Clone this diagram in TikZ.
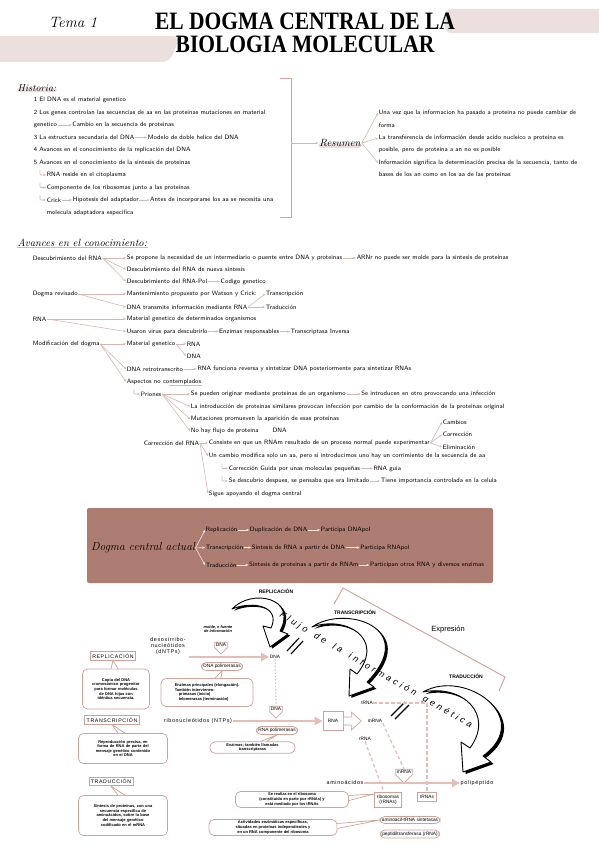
\documentclass[tikz,border=0pt]{standalone}
\usepackage{fontspec}
\usepackage{graphicx}
\usetikzlibrary{arrows.meta, positioning, backgrounds, decorations.text, shapes.symbols}
\newfontfamily\fig{Liberation Sans}
\newfontfamily\figsp{Liberation Sans}[LetterSpace=12]
\newfontfamily\titlef{Liberation Serif}
\definecolor{rosa}{RGB}{236,224,222}
\definecolor{rosaline}{RGB}{216,182,175}
\definecolor{marron}{RGB}{174,125,114}
\definecolor{claro}{RGB}{244,226,222}
\definecolor{bubc}{RGB}{208,162,152}
\definecolor{pkarr}{RGB}{228,190,182}
\newcommand{\hw}{\sffamily\fontsize{6.3}{7}\selectfont}
\newcommand{\cur}{\rmfamily\itshape}
\newcommand{\ftxt}{\fig\bfseries\fontsize{4}{4.6}\selectfont}
% flechas gruesas del esquema
\newcommand{\flechaRep}{(232,609) .. controls (252,588) and (298,598) .. (280,631) -- (288,634) -- (270,647) -- (263,626) -- (271,628) .. controls (281,607) and (254,600) .. (232,609) -- cycle}
\newcommand{\flechaTra}{(312,627) .. controls (345,604) and (420,628) .. (367,682) -- (374,687) -- (349,696) -- (350,669) -- (357,674) .. controls (386,638) and (345,615) .. (312,627) -- cycle}
\newcommand{\flechaTrd}{(423,692) .. controls (465,668) and (535,718) .. (483,756) -- (491,762) -- (463,772) -- (461,742) -- (470,748) .. controls (495,714) and (462,684) .. (423,692) -- cycle}

\begin{document}
\begin{tikzpicture}[x=1pt, y=-1pt,
    txt/.style={anchor=west, inner sep=0.6pt, font=\hw},
    arr/.style={-{Stealth[length=2.8pt,width=2.4pt]}, rosaline, line width=0.6pt},
    warr/.style={-{Stealth[length=2.8pt,width=2.4pt]}, claro, line width=0.6pt},
    hook/.style={arr, rounded corners=0.8pt},
    lbl/.style={draw=bubc, line width=0.7pt, inner sep=2pt, font=\figsp\fontsize{5.2}{6}\selectfont},
    bub/.style={draw=bubc, fill=white, line width=0.7pt, rounded corners=5pt, align=center, inner sep=1.5pt, font=\ftxt},
    pill/.style={draw=bubc, line width=0.7pt, rounded corners=4.5pt, inner sep=1.8pt, font=\fig\fontsize{4.8}{5}\selectfont},
    sig/.style={draw=bubc, line width=0.7pt, signal, signal to=south, inner sep=1.2pt, font=\fig\fontsize{4.8}{5}\selectfont},
    lab/.style={font=\fig\fontsize{4.8}{5.4}\selectfont, inner sep=0.5pt, align=center},
    slab/.style={font=\figsp\fontsize{5.4}{6}\selectfont, inner sep=0.5pt, align=center},
    parr/.style={-{Triangle[length=8pt,width=8pt]}, pkarr, line width=1.4pt},
    dsh/.style={pkarr, line width=1.3pt, dash pattern=on 3.5pt off 2.5pt},
    tl/.style={fill=white, draw=bubc, line width=0.7pt, line join=round},
    fat/.style={fill=white, draw=black, line width=0.9pt, line join=round},
    brk/.style={bubc, line width=0.9pt}
  ]
  \useasboundingbox (0,0) rectangle (599,848);

  % titulo
  \node (tema) at (73,22) {\cur\fontsize{15}{15}\selectfont Tema 1};
  \node (tit1) at (305,21) {\titlef\bfseries\fontsize{25}{25}\selectfont\scalebox{0.86}[1]{EL DOGMA CENTRAL DE LA}};
  \node (tit2) at (305,44) {\titlef\bfseries\fontsize{25}{25}\selectfont\scalebox{0.86}[1]{BIOLOGIA MOLECULAR}};

  % historia
  \node[anchor=west, inner sep=0.5pt] (hist) at (17,88) {\cur\fontsize{10}{10}\selectfont Historia:};
  \node[txt] (h1) at (33,100) {1 El DNA es el material genetico};
  \node[txt] (h2) at (33,112.5) {2 Los genes controlan las secuencias de aa en las proteinas mutaciones en material};
  \node[txt] (h3) at (33,125) {genetico};
  \node[txt, right=14pt of h3] (h3b) {Cambio en la secuencia de proteinas};
  \node[txt] (h4) at (33,137.5) {3 La estructura secundaria del DNA};
  \node[txt, right=12pt of h4] (h4b) {Modelo de doble helice del DNA};
  \node[txt] (h5) at (33,150) {4 Avances en el conocimiento de la replicación del DNA};
  \node[txt] (h6) at (33,162.5) {5 Avances en el conocimiento de la sintesis de proteinas};
  \node[txt] (h7) at (46,175) {RNA reside en el citoplasma};
  \node[txt] (h8) at (46,187.5) {Componente de los ribosomas junto a las proteinas};
  \node[txt] (h9) at (46,200) {Crick};
  \node[txt, right=10pt of h9] (h9b) {Hipotesis del adaptador};
  \node[txt, right=10pt of h9b] (h9c) {Antes de incorporarse los aa se necesita una};
  \node[txt] (h10) at (46,212.5) {molecula adaptadora especifica};
  \draw[arr] (h3) -- (h3b);
  \draw[arr] (h4) -- (h4b);
  \draw[arr] (h9) -- (h9b);
  \draw[arr] (h9b) -- (h9c);
  \foreach \n in {h7,h8,h9}
    \draw[hook] ([xshift=-6pt,yshift=5pt]\n.west) |- (\n.west);

  % resumen
  \draw[brk] (280,78) -- (291,78) -- (291,217) -- (280,217);
  \coordinate (brkm) at (291,143);
  \node[inner sep=1pt] (res) at (340,143) {\cur\fontsize{10.5}{10.5}\selectfont Resumen};
  \draw[arr, line width=0.9pt] (brkm) -- (res.west);
  \node[txt] (r1) at (378,113) {Una vez que la informacion ha pasado a proteina no puede cambiar de};
  \node[txt] (r1b) at (378,125) {forma};
  \node[txt] (r2) at (378,138) {La transferencia de información desde acido nucleico a proteina es};
  \node[txt] (r2b) at (378,150) {posible, pero de proteina a an no es posible};
  \node[txt] (r3) at (378,163) {Información significa la determinación precisa de la secuencia, tanto de};
  \node[txt] (r3b) at (378,175) {bases de los an como en los aa de las proteinas};
  \foreach \n in {r1,r2,r3}
    \draw[arr] (res.east) -- (\n.west);

  % avances
  \node[anchor=west, inner sep=0.5pt] (av) at (17,243) {\cur\fontsize{10.5}{10.5}\selectfont Avances en el conocimiento:};
  \node[txt] (d1) at (32,258) {Descubrimiento del RNA};
  \node[txt] (d1a) at (126,258) {Se propone la necesidad de un intermediario o puente entre DNA y proteinas};
  \node[txt, right=13pt of d1a] (d1a2) {ARNr no puede ser molde para la sintesis de proteinas};
  \node[txt] (d1b) at (126,269.5) {Descubrimiento del RNA de nueva sintesis};
  \node[txt] (d1c) at (126,281.5) {Descubrimiento del RNA-Pol};
  \node[txt, right=12pt of d1c] (d1c2) {Codigo genetico};
  \foreach \n in {d1a,d1b,d1c}
    \draw[arr] (d1.east) -- (\n.west);
  \draw[arr] (d1a) -- (d1a2);
  \draw[arr] (d1c) -- (d1c2);

  \node[txt] (d2) at (32,294) {Dogma revisado};
  \node[txt] (d2a) at (126,294) {Mantenimiento propuesto por Watson y Crick:};
  \node[txt] (d2b) at (126,307) {DNA transmite información mediante RNA};
  \node[txt] (tc) at (265,294) {Transcripción};
  \node[txt] (td) at (265,307) {Traducción};
  \draw[arr] (d2.east) -- (d2a.west);
  \draw[arr] (d2.east) -- (d2b.west);
  \draw[arr] (d2b.east) -- (tc.west);
  \draw[arr] (d2b.east) -- (td.west);

  \node[txt] (d3) at (32,319) {RNA};
  \node[txt] (d3a) at (126,319) {Material genetico de determinados organismos};
  \node[txt] (d3b) at (126,331.5) {Usaron virus para descubrirlo};
  \node[txt, right=10pt of d3b] (d3c) {Enzimas responsables};
  \node[txt, right=10pt of d3c] (d3d) {Transcriptasa Inversa};
  \draw[arr] (d3.east) -- (d3a.west);
  \draw[arr] (d3.east) -- (d3b.west);
  \draw[arr] (d3b) -- (d3c);
  \draw[arr] (d3c) -- (d3d);

  \node[txt] (d4) at (32,344) {Modificación del dogma};
  \node[txt] (d4a) at (126,344) {Material genetico};
  \node[txt] (rnaA) at (186,344) {RNA};
  \node[txt] (dnaA) at (186,356) {DNA};
  \node[txt] (d4b) at (126,369) {DNA retrotranscrito};
  \node[txt, right=13pt of d4b] (d4c) {RNA funciona reversa y sintetizar DNA posteriormente para sintetizar RNAs};
  \node[txt] (d4d) at (126,381.5) {Aspectos no contemplados};
  \foreach \n in {d4a,d4b,d4d}
    \draw[arr] (d4.east) -- (\n.west);
  \draw[arr] (d4a.east) -- (rnaA.west);
  \draw[arr] (d4a.east) -- (dnaA.west);
  \draw[arr] (d4b) -- (d4c);
  \draw[rosaline, line width=0.6pt] ([xshift=-33pt]d4d.south east) -- (d4d.south east);

  \node[txt] (pr) at (140,394) {Priones};
  \node[txt] (pr1) at (190,394) {Se pueden originar mediante proteinas de un organismo};
  \node[txt, right=14pt of pr1] (pr1b) {Se introducen en otro provocando una infección};
  \node[txt] (pr2) at (190,406.5) {La introducción de proteinas similares provocan infección por cambio de la conformación de la proteinas original};
  \node[txt] (pr3) at (190,419) {Mutaciones promueven la aparición de esas proteinas};
  \node[txt] (pr4) at (190,431) {No hay flujo de proteina\hspace{14pt}DNA};
  \draw[hook] ([xshift=-6pt,yshift=5pt]pr.west) |- (pr.west);
  \foreach \n in {pr1,pr2,pr3,pr4}
    \draw[arr] (pr.east) -- (\n.west);
  \draw[arr] (pr1) -- (pr1b);

  \node[txt] (cr) at (143,443) {Corrección del RNA};
  \node[txt] (cr1) at (208,443) {Consiste en que un RNAm resultado de un proceso normal puede experimentar};
  \node[txt] (cb1) at (442,422) {Cambios};
  \node[txt] (cb2) at (442,434.5) {Corrección};
  \node[txt] (cb3) at (442,447) {Eliminación};
  \node[txt] (cr2) at (208,456) {Un cambio modifica solo un aa, pero si introducimos uno hay un corrimiento de la secuencia de aa};
  \node[txt] (cr3) at (228,468.5) {Corrección Guida por unas moleculas pequeñas};
  \node[txt, right=12pt of cr3] (cr3b) {RNA guia};
  \node[txt] (cr4) at (228,481) {Se descubrio despues, se pensaba que era limitado};
  \node[txt, right=10pt of cr4] (cr4b) {Tiene importancia controlada en la celula};
  \node[txt] (cr5) at (208,493.5) {Sigue apoyando el dogma central};
  \foreach \n in {cr1,cr2,cr5}
    \draw[arr] (cr.east) -- (\n.west);
  \foreach \n in {cb1,cb2,cb3}
    \draw[arr] (cr1.east) -- (\n.west);
  \foreach \n in {cr3,cr4}
    \draw[hook] ([xshift=-6pt,yshift=5pt]\n.west) |- (\n.west);
  \draw[arr] (cr3) -- (cr3b);
  \draw[arr] (cr4) -- (cr4b);

  % dogma central actual
  \node[fill=marron, minimum width=406pt, minimum height=75pt, inner sep=0pt, rounded corners=2pt] (dbox) at (290,545.5) {};
  \node[inner sep=0.5pt] (dca) at (143,548) {\cur\fontsize{11.5}{12}\selectfont Dogma central actual};
  \node[txt] (rp1) at (205,530) {Replicación};
  \node[txt, right=11pt of rp1] (rp2) {Duplicación de DNA};
  \node[txt, right=12pt of rp2] (rp3) {Participa DNApol};
  \node[txt] (ts1) at (205,547.5) {Transcripción};
  \node[txt, right=7pt of ts1] (ts2) {Sintesis de RNA a partir de DNA};
  \node[txt, right=14pt of ts2] (ts3) {Participa RNApol};
  \node[txt] (tr1) at (205,565) {Traducción};
  \node[txt, right=11pt of tr1] (tr2) {Sintesis de proteinas a partir de RNAm};
  \node[txt, right=10pt of tr2] (tr3) {Participan otros RNA y diversos enzimas};
  \foreach \n in {rp1,ts1,tr1}
    \draw[warr] (dca.east) -- (\n.west);
  \draw[warr] (rp1) -- (rp2);
  \draw[warr] (rp2) -- (rp3);
  \draw[warr] (ts1) -- (ts2);
  \draw[warr] (ts2) -- (ts3);
  \draw[warr] (tr1) -- (tr2);
  \draw[warr] (tr2) -- (tr3);

  % esquema: flujo de la informacion
  \fill[black, shift={(2.2,1.6)}] \flechaRep;
  \path[fat] \flechaRep;
  \fill[black, shift={(2.4,1.8)}] \flechaTra;
  \path[fat] \flechaTra;
  \fill[black, shift={(2.6,2)}] \flechaTrd;
  \path[fat] \flechaTrd;
  \path[decorate, decoration={text along path, text align=fit to path,
      text={|\fig\itshape\fontsize{9}{9}\selectfont|Flujo de la información genética}}]
    (279,616) .. controls (330,648) and (400,688) .. (470,728);
  \node[font=\fig\bfseries\fontsize{5}{5}\selectfont, inner sep=0.5pt] (repl) at (276,591) {REPLICACIÓN};
  \node[font=\fig\bfseries\fontsize{5}{5}\selectfont, inner sep=0.5pt] (trans) at (355,612) {TRANSCRIPCIÓN};
  \node[font=\fig\bfseries\fontsize{5}{5}\selectfont, inner sep=0.5pt] (trad) at (466,676) {TRADUCCIÓN};
  \node[font=\fig\fontsize{7.5}{7.5}\selectfont, inner sep=0.5pt] (expr) at (448,630) {Expresión};
  \draw[brk] (334,604) -- (343,588) -- (505,677) -- (499,691);
  \draw[line width=1.1pt] (287,651) -- (299,638) (291,654) -- (303,641);
  \draw[line width=1.1pt] (391,716) -- (405,702) (395,719) -- (409,705);

  % replicacion
  \node[lbl] (lblR) at (113,656) {REPLICACIÓN};
  \node[bub, text width=64pt, minimum height=40pt] (bubR) at (116,689) {Copia del DNA\\cromosómico progenitor\\para formar moléculas\\de DNA hijas con\\idéntica secuencia.};
  \filldraw[tl] ([xshift=-5pt]bubR.north) -- (lblR.south) -- ([xshift=2pt]bubR.north);
  \node[slab] (dntp) at (168,646) {desoxirribo-\\nucleótidos\\(dNTPs)};
  \node[lab, font=\fig\bfseries\itshape\fontsize{3.9}{4.5}\selectfont] (molde) at (218,629) {molde, o fuente\\de información};
  \node[sig] (dnam) at (221,645) {DNA};
  \node[lab] (dnap) at (275,657) {DNA};
  \coordinate (dntpout) at (189,657);
  \draw[parr] (dntpout) -- (dnap.west);
  \node[pill] (dnapol) at (222,666.5) {DNA polimerasas};
  \node[bub, align=left, minimum width=92pt, minimum height=28pt] (bubDP) at (207,692.5) {Enzimas principales (elongación).\\También intervienen:\\\quad primasas (inicio)\\\quad telomerasas (terminación)};
  \filldraw[tl] ([xshift=8pt]bubDP.north) -- (dnapol.south) -- ([xshift=14pt]bubDP.north);
  \node[sig] (dnab) at (276,709) {DNA};
  \draw[pkarr, line width=1.3pt, dotted] (dnap.south) -- (dnab.north);

  % transcripcion
  \node[lbl] (lblT) at (112,720) {TRANSCRIPCIÓN};
  \node[bub, text width=86pt, minimum height=30pt] (bubT) at (123,748.5) {Reproducción precisa, en\\forma de RNA de parte del\\mensaje genético contenido\\en el DNA};
  \filldraw[tl] ([xshift=-5pt]bubT.north) -- (lblT.south) -- ([xshift=2pt]bubT.north);
  \node[slab] (ntp) at (198,721) {ribonucleótidos (NTPs)};
  \node[draw=bubc, line width=0.7pt, minimum width=20pt, minimum height=19pt, inner sep=0pt, font=\fig\fontsize{4.8}{5}\selectfont] (rnab) at (333,721) {RNA};
  \draw[parr] (ntp.east) -- (rnab.west);
  \filldraw[tl] ([yshift=4pt]rnab.east) -- ++(8,0) -- ++(0,-5) -- ++(10,9) -- ++(-10,9) -- ++(0,-5) -- ++(-8,0) -- cycle;
  \node[pill] (rnapol) at (277,730.5) {RNA polimerasas};
  \node[bub, minimum width=85pt] (bubRP) at (252.5,747.5) {Enzimas; también llamadas\\transcriptasas};
  \filldraw[tl] ([xshift=8pt]bubRP.north) -- (rnapol.south) -- ([xshift=14pt]bubRP.north);
  \node[lab] (trna) at (367,703) {tRNA};
  \node[lab] (mrna) at (375,721) {mRNA};
  \node[lab] (rrna) at (365,739) {rRNA};

  % traduccion
  \node[lbl] (lblTr) at (111,781.5) {TRADUCCIÓN};
  \node[bub, text width=86pt, minimum height=40pt] (bubTr) at (123,815.5) {Síntesis de proteínas, con una\\secuencia específica de\\aminoácidos, sobre la base\\del mensaje genético\\codificado en el mRNA};
  \filldraw[tl] ([xshift=-5pt]bubTr.north) -- (lblTr.south) -- ([xshift=2pt]bubTr.north);
  \node[sig] (mrnab) at (404,772) {mRNA};
  \node[slab] (amin) at (345,783) {aminoácidos};
  \node[slab] (poli) at (477,783) {polipéptido};
  \draw[parr] (amin.east) -- (poli.west);
  \node[lab, draw=bubc, line width=0.7pt, inner sep=2.5pt] (ribo) at (388,800) {ribosomas\\(rRNAs)};
  \node[lab, draw=bubc, line width=0.7pt, inner sep=2.5pt] (trnas) at (427,797) {tRNAs};
  \node[pill] (amsint) at (410,820) {aminoacil-tRNA sintetasas};
  \node[pill] (pept) at (410,834) {peptidiltransferasa (rRNA)};
  \node[bub, minimum width=113pt] (bubRib) at (292,799.5) {Se realiza en el ribosoma\\(constituido en parte por rRNAs) y\\está mediado por los tRNAs};
  \filldraw[tl] ([yshift=4pt]bubRib.east) -- ([yshift=6pt]ribo.west) -- ([yshift=-1pt]bubRib.east);
  \node[bub, minimum width=128pt] (bubAct) at (273,827.5) {Actividades enzimáticas específicas,\\situadas en proteínas independientes y\\en un RNA componente del ribosoma};
  \filldraw[tl] ([yshift=4pt]bubAct.east) -- (amsint.west) -- ([yshift=-1pt]bubAct.east);
  \draw[dsh] (trna.east) -- (trnas.north |- trna.east) -- (trnas.north);
  \draw[dsh] (mrna.south east) -- (mrnab.north);
  \draw[dsh] (rrna.south) -- ([xshift=-4pt]ribo.north);

  % fondos
  \begin{scope}[on background layer]
    \fill[rosa, rounded corners=8pt] (-10,36) -- (180,36) -- (170,62) -- (-10,62) -- cycle;
    \fill[rosa, rounded corners=6pt] (445,9) rectangle (615,33);
    \fill[rosa, rounded corners=2.5pt] (hist.south west) rectangle (hist.east);
    \fill[rosa, rounded corners=3pt] (res.south west) rectangle (res.east);
    \draw[rosaline, line width=0.8pt] (av.south west) -- (av.south east);
  \end{scope}
\end{tikzpicture}
\end{document}
